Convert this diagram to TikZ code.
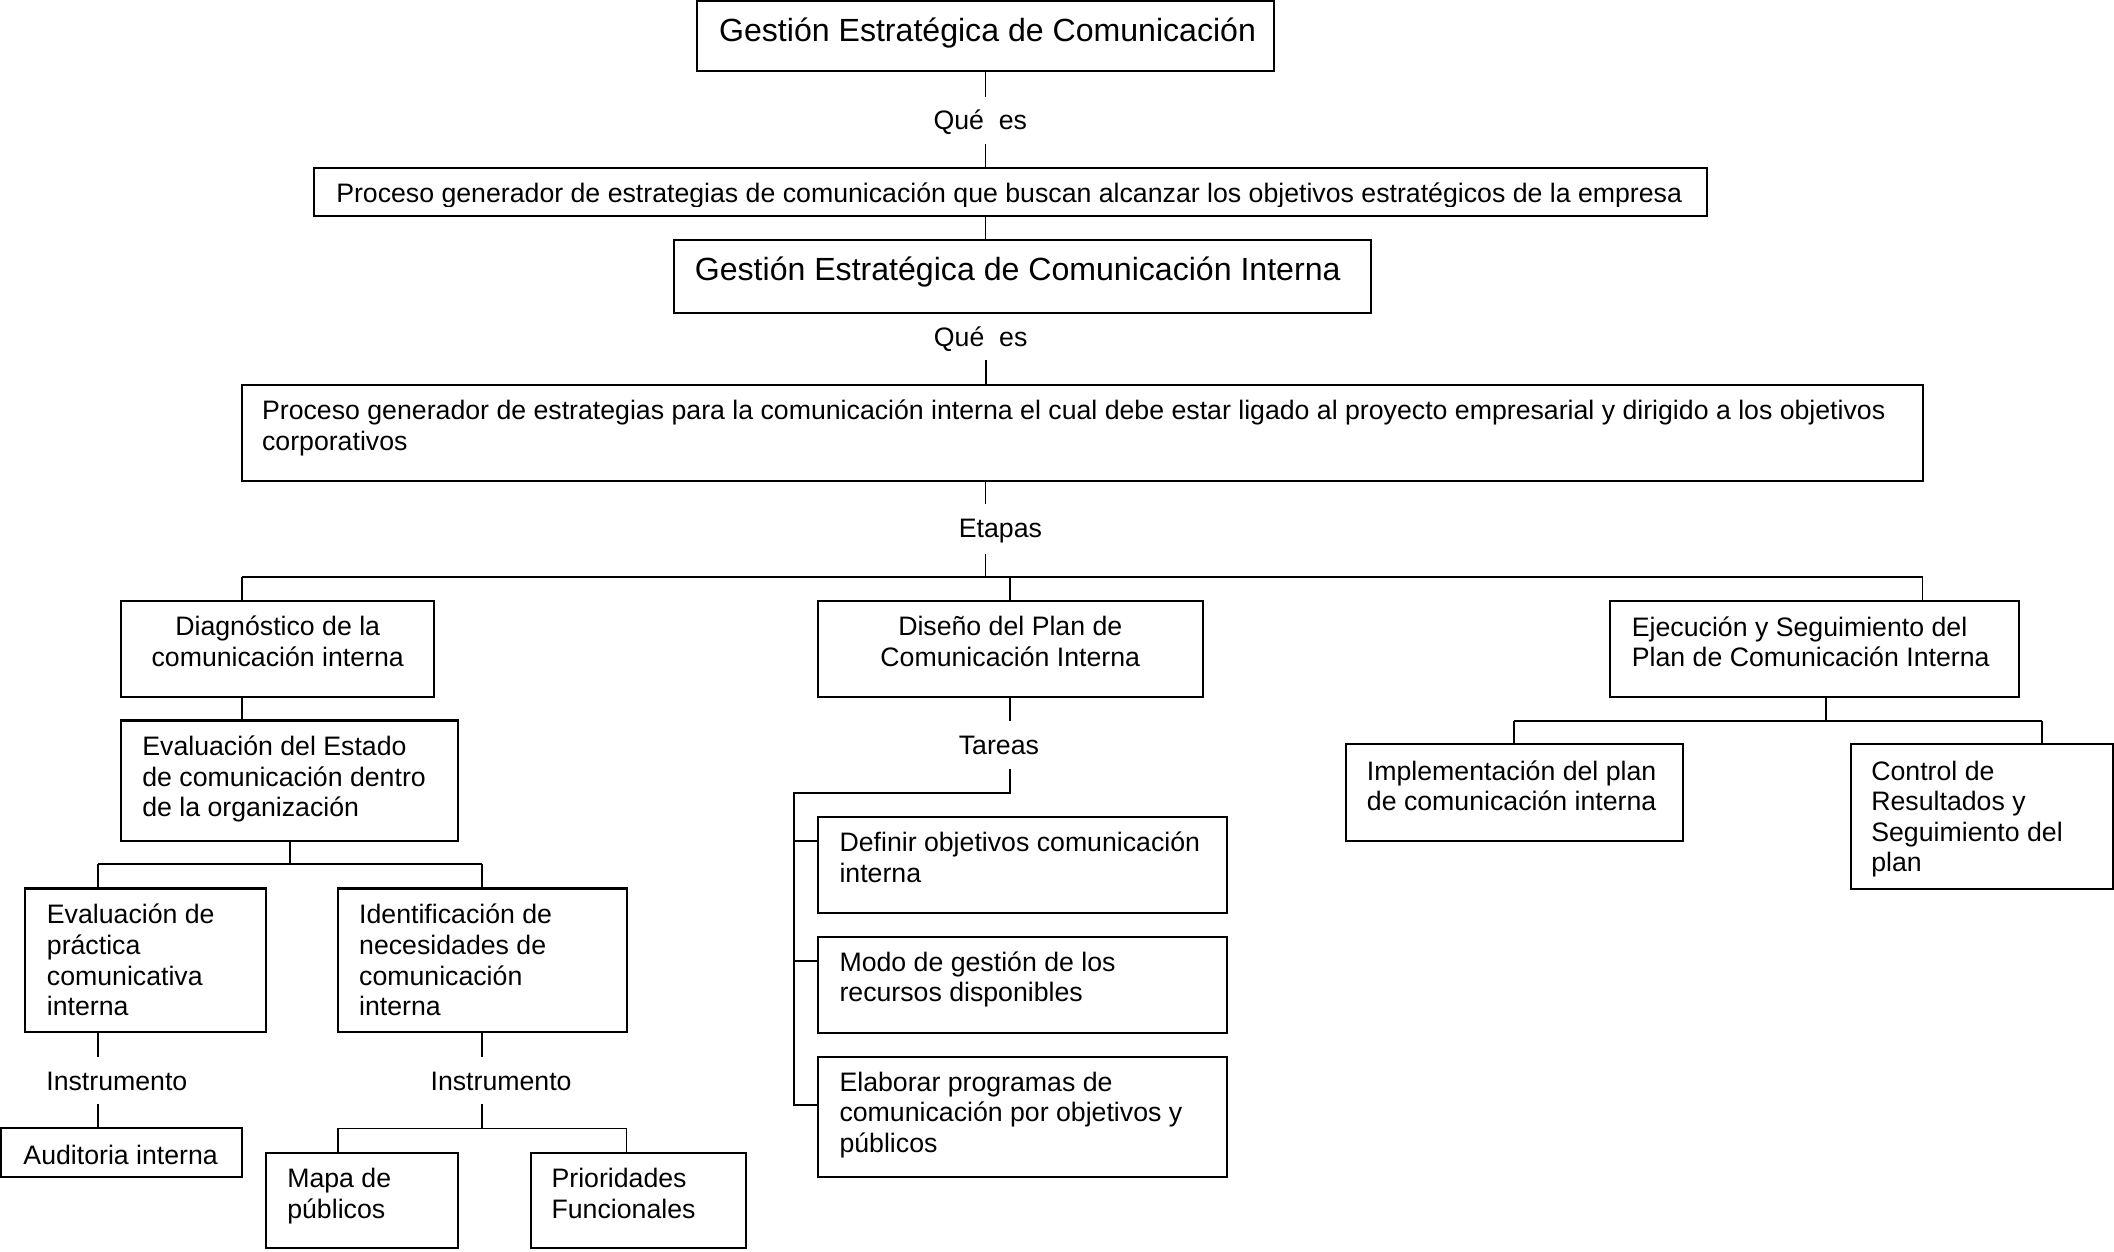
\documentclass[tikz,border=0pt]{standalone}
\usepackage{fontspec}
\setmainfont{Liberation Sans}
\begin{document}
\begin{tikzpicture}[x=0.5pt,y=-0.5pt,
  box/.style={draw, line width=0.75pt, inner sep=0pt, outer sep=0pt},
  txt/.style={anchor=base west, inner sep=0pt, align=left, font=\fontsize{9.9}{11.35}\selectfont},
  ctxt/.style={anchor=base, inner sep=0pt, align=center, font=\fontsize{9.9}{11.35}\selectfont},
  ttl/.style={anchor=base west, inner sep=0pt, font=\fontsize{11.9}{14}\selectfont},
  conn/.style={line width=0.65pt}]
\useasboundingbox (0,0) rectangle (1568,928);

% ---------- boxes ----------
\node[box, minimum width=214pt, minimum height=26.1pt] (g1) at (731,26.9) {};
\node[box, minimum width=516.5pt, minimum height=18pt] (p1) at (749.5,142.5) {};
\node[box, minimum width=258.5pt, minimum height=27pt] (g2) at (758.5,205) {};
\node[box, minimum width=623.25pt, minimum height=35.5pt] (p2) at (802.75,321) {};
\node[box, minimum width=116pt, minimum height=35.75pt] (diag) at (206,481.25) {};
\node[box, minimum width=142.65pt, minimum height=35.75pt] (dis) at (749.35,481.25) {};
\node[box, minimum width=151.6pt, minimum height=35.75pt] (eje) at (1346,481.25) {};
\node[box, minimum width=124.9pt, minimum height=36pt] (imp) at (1123.3,588) {};
\node[box, minimum width=97.3pt, minimum height=53.7pt] (ctl) at (1469.9,605.7) {};
\node[box, minimum width=124.9pt, minimum height=44.7pt] (est) at (214.9,579.1) {};
\node[box, minimum width=89.05pt, minimum height=53.4pt] (prac) at (107.95,712.4) {};
\node[box, minimum width=107.1pt, minimum height=53.4pt] (ident) at (357.6,712.4) {};
\node[box, minimum width=89.15pt, minimum height=18pt] (aud) at (90.25,855) {};
\node[box, minimum width=71.35pt, minimum height=35.45pt] (mapa) at (268.55,890.45) {};
\node[box, minimum width=80pt, minimum height=35.45pt] (prio) at (473.6,890.45) {};
\node[box, minimum width=151.65pt, minimum height=35.5pt] (t1) at (758.35,641.5) {};
\node[box, minimum width=151.65pt, minimum height=35.5pt] (t2) at (758.35,730.5) {};
\node[box, minimum width=151.65pt, minimum height=44.5pt] (t3) at (758.35,828.5) {};

% ---------- texts (anchor = baseline of last line) ----------
\node[ttl] (g1t) at (533,30.9) {Gestión Estratégica de Comunicación};
\begin{scope}
\clip (233,124.5) rectangle (1266,153.4);
\node[txt] (p1t) at (249,150.3) {Proceso generador de estrategias de comunicación que buscan alcanzar los objetivos estratégicos de la empresa};
\end{scope}
\node[ttl] (g2t) at (515,207.7) {Gestión Estratégica de Comunicación Interna};
\node[txt] (p2t) at (194,334.0) {Proceso generador de estrategias para la comunicación interna el cual debe estar ligado al proyecto empresarial y dirigido a los objetivos\\corporativos};
\node[ctxt] (diagt) at (206,494.2) {Diagnóstico de la\\comunicación interna};
\node[ctxt] (dist) at (749.35,494.2) {Diseño del Plan de\\Comunicación Interna};
\node[txt] (ejet) at (1210,494.7) {Ejecución y Seguimiento del\\Plan de Comunicación Interna};
\node[txt] (impt) at (1013.5,601.3) {Implementación del plan\\de comunicación interna};
\node[txt] (ctlt) at (1387.6,646.7) {Control de\\Resultados y\\Seguimiento del\\plan};
\node[txt] (estt) at (105.2,605.8) {Evaluación del Estado\\de comunicación dentro\\de la organización};
\node[txt] (pract) at (34.4,753.3) {Evaluación de\\práctica\\comunicativa\\interna};
\node[txt] (identt) at (266,753.3) {Identificación de\\necesidades de\\comunicación\\interna};
\node[txt] (audt) at (17,863.8) {Auditoria interna};
\node[txt] (mapat) at (212.7,903.7) {Mapa de\\públicos};
\node[txt] (priot) at (408.7,903.7) {Prioridades\\Funcionales};
\node[txt] (t1t) at (622.3,654.4) {Definir objetivos comunicación\\interna};
\node[txt] (t2t) at (622.3,743.1) {Modo de gestión de los\\recursos disponibles};
\node[txt] (t3t) at (622.3,854.7) {Elaborar programas de\\comunicación por objetivos y\\públicos};

% ---------- labels ----------
\node[txt] (q1) at (692,96.4) {Qué\ \ es};
\node[txt] (q2) at (692.3,257) {Qué\ \ es};
\node[txt] (et) at (710.8,399) {Etapas};
\node[txt] (ta) at (710.8,559.7) {Tareas};
\node[txt] (i1) at (34,809.2) {Instrumento};
\node[txt] (i2) at (319,809.2) {Instrumento};

% ---------- junction coordinates ----------
\coordinate (q1a) at (731,72);
\coordinate (q1b) at (731,107);
\coordinate (q2b) at (731.4,267);
\coordinate (eta) at (731,374);
\coordinate (etb) at (731,411);
\coordinate (bar1) at (731,428);
\coordinate (bar2) at (215,641);
\coordinate (b2l) at (72.7,641);
\coordinate (b2r) at (357.7,641);
\coordinate (i1a) at (72.7,784);
\coordinate (i1b) at (72.7,819);
\coordinate (i2a) at (357.7,784);
\coordinate (i2b) at (357.7,819);
\coordinate (b3l) at (250.5,837);
\coordinate (b3r) at (464.7,837);
\coordinate (ta1) at (749.4,535);
\coordinate (ta2) at (749.4,570);
\coordinate (ta3) at (749.4,588);
\coordinate (ta4) at (589,588);
\coordinate (ta5) at (589,819.7);
\coordinate (k1) at (589,624);
\coordinate (k2) at (589,712.7);
\coordinate (e1) at (1354.6,534.6);
\coordinate (b4l) at (1122.8,534.6);
\coordinate (b4r) at (1514.8,534.6);

% ---------- connectors ----------
\draw[conn] (g1.south) -- (q1a);
\draw[conn] (q1b) -- (q1b |- p1.north);
\draw[conn] (q1b |- p1.south) -- (q1b |- g2.north);
\draw[conn] (q2b) -- (q2b |- p2.north);
\draw[conn] (eta |- p2.south) -- (eta);
\draw[conn] (etb) -- (bar1);
\draw[conn] (p2.south west |- bar1) -- (p2.south east |- bar1);
\draw[conn] (p2.south west |- bar1) -- (p2.south west |- diag.north);
\draw[conn] (dis.north |- bar1) -- (dis.north);
\draw[conn] (p2.south east |- bar1) -- (p2.south east |- eje.north);
\draw[conn] (p2.south west |- diag.south) -- (p2.south west |- est.north);
\draw[conn] (bar2 |- est.south) -- (bar2);
\draw[conn] (b2l) -- (b2r);
\draw[conn] (b2l) -- (b2l |- prac.north);
\draw[conn] (b2r) -- (b2r |- ident.north);
\draw[conn] (i1a |- prac.south) -- (i1a);
\draw[conn] (i1b) -- (i1b |- aud.north);
\draw[conn] (i2a |- ident.south) -- (i2a);
\draw[conn] (i2b) -- (i2b |- b3l);
\draw[conn] (b3l) -- (b3r);
\draw[conn] (b3l) -- (b3l |- mapa.north);
\draw[conn] (b3r) -- (b3r |- prio.north);
\draw[conn] (ta1 |- dis.south) -- (ta1);
\draw[conn] (ta2) -- (ta3) -- (ta4) -- (ta5) -- (t3.west |- ta5);
\draw[conn] (k1) -- (t1.west |- k1);
\draw[conn] (k2) -- (t2.west |- k2);
\draw[conn] (e1 |- eje.south) -- (e1);
\draw[conn] (b4l) -- (b4r);
\draw[conn] (b4l) -- (b4l |- imp.north);
\draw[conn] (b4r) -- (b4r |- ctl.north);
\end{tikzpicture}
\end{document}
